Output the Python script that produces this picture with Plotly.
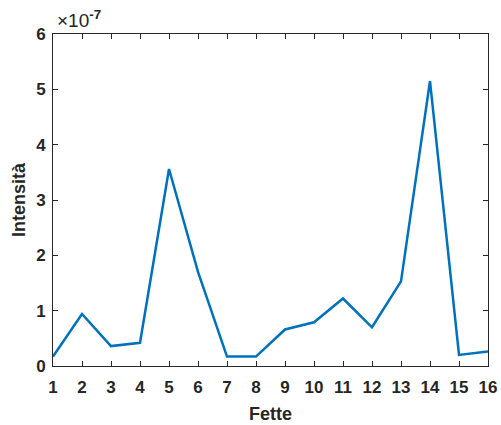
import plotly.graph_objects as go

fette = list(range(1, 17))
# Intensity values in units of 1e-7
intensita_e7 = [0.17, 0.94, 0.36, 0.42, 3.56, 1.70, 0.17, 0.17,
                0.66, 0.79, 1.22, 0.70, 1.53, 5.15, 0.20, 0.26]
y_ticks = [0, 1, 2, 3, 4, 5, 6]

ax_col = "#262626"
fnt = "Liberation Sans, Arial, sans-serif"

fig = go.Figure()
fig.add_trace(go.Scatter(x=fette, y=intensita_e7, mode="lines",
                         line=dict(color="#0072BD", width=2.5)))

fig.update_layout(
    width=501, height=425,
    margin=dict(l=53, r=13, t=34, b=59),
    plot_bgcolor="white", paper_bgcolor="white",
    showlegend=False,
    font=dict(family=fnt, color=ax_col),
    xaxis=dict(range=[1, 16], tickvals=fette, ticks="inside", ticklen=5,
               tickcolor=ax_col, showline=True, linecolor=ax_col, linewidth=1,
               mirror="ticks", showgrid=False, zeroline=False, automargin=False,
               ticklabelstandoff=6,
               tickfont=dict(size=17, weight="bold", family=fnt, color=ax_col),
               title=dict(text="Fette", standoff=10,
                          font=dict(size=18, weight="bold", family=fnt, color=ax_col))),
    yaxis=dict(range=[0, 6], tickvals=y_ticks, ticks="inside", ticklen=5,
               tickcolor=ax_col, showline=True, linecolor=ax_col, linewidth=1,
               mirror="ticks", showgrid=False, zeroline=False, automargin=False,
               ticklabelstandoff=3,
               tickfont=dict(size=17, weight="bold", family=fnt, color=ax_col),
               title=dict(text="Intensità", standoff=5,
                          font=dict(size=18, weight="bold", family=fnt, color=ax_col))),
    annotations=[dict(text="×10<sup><b>-7</b></sup>", xref="paper", yref="paper",
                      x=0, y=1, xanchor="left", yanchor="bottom", showarrow=False,
                      xshift=2, yshift=1,
                      font=dict(size=19, family=fnt, color=ax_col))],
)

fig.write_html("out.html")
